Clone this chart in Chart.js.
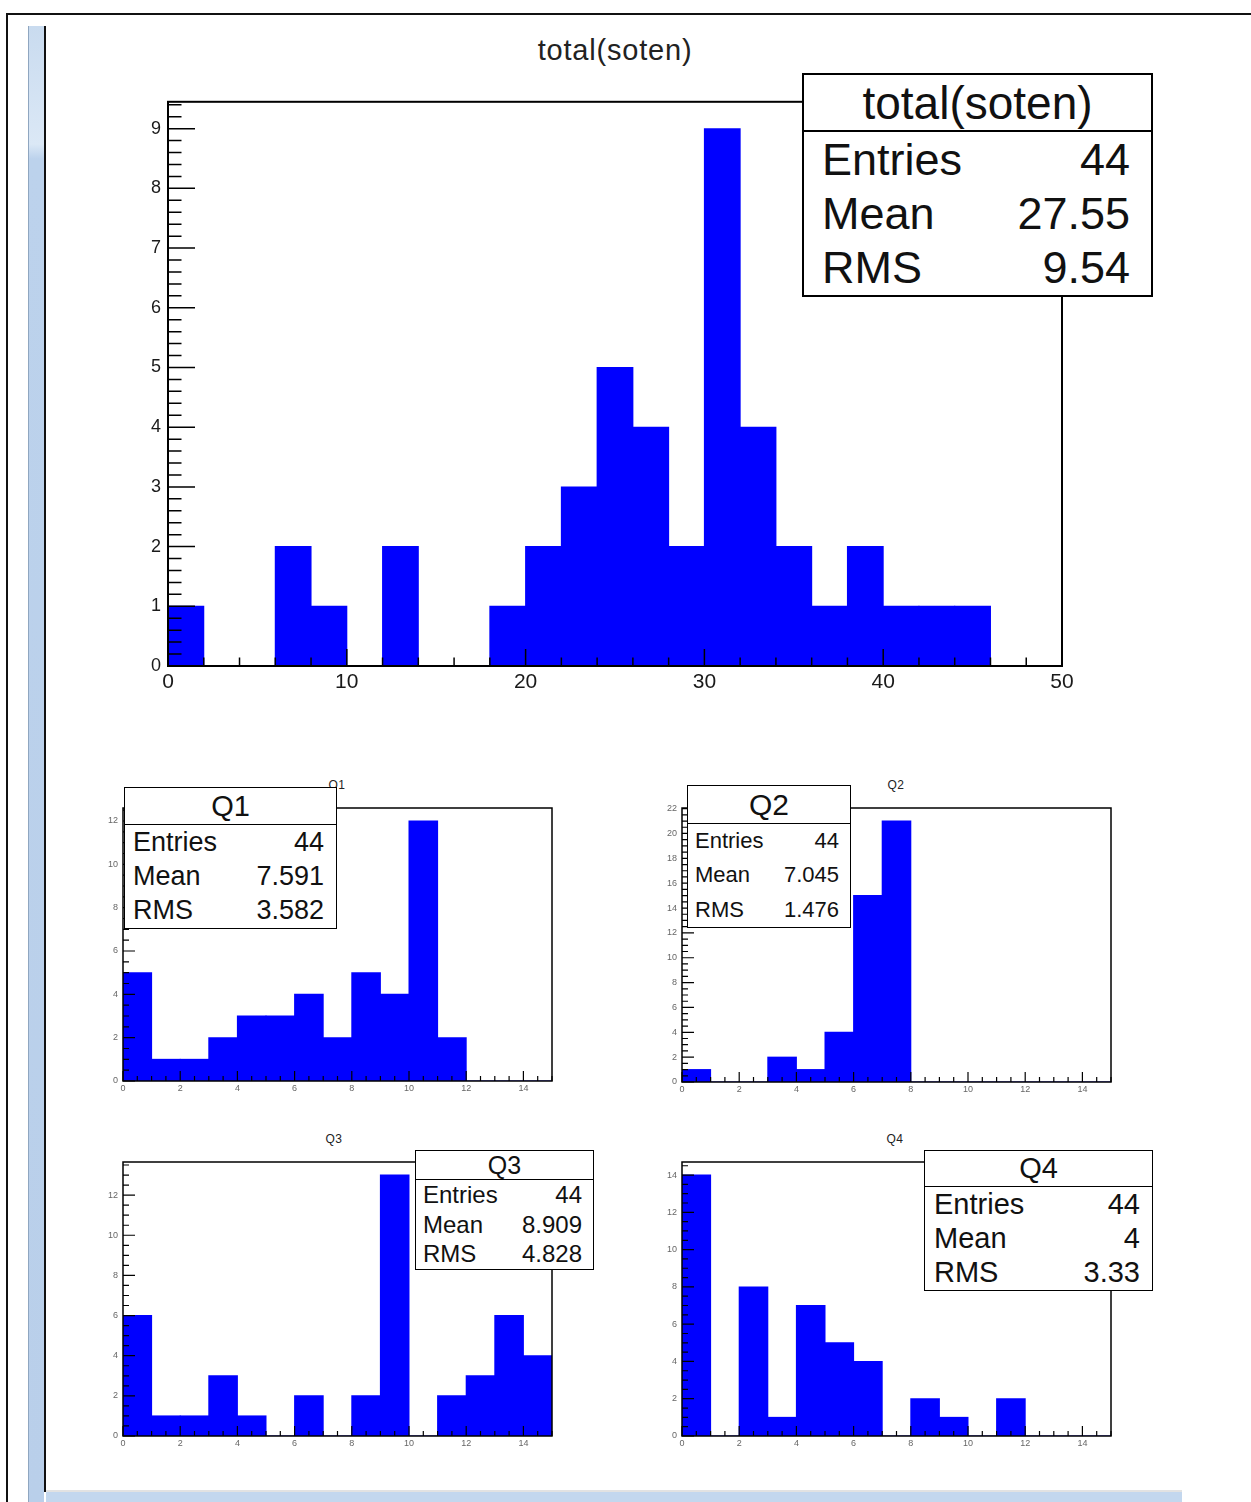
<!DOCTYPE html>
<html>
<head>
<meta charset="utf-8">
<script src="https://cdn.jsdelivr.net/npm/chart.js@4/dist/chart.umd.min.js"></script>
<style>
body { margin: 0; background: #fff; font-family: "Liberation Sans", Arial, sans-serif; }
#page { position: relative; width: 1251px; height: 1502px; overflow: hidden; background: #fff; }
.deco { position: absolute; }
canvas.hist { position: absolute; }
.title { position: absolute; transform: translate(-50%, -50%); white-space: nowrap; color: #222; line-height: 1; }
.stats { position: absolute; background: #fff; border: 1.5px solid #000; box-sizing: border-box;
         display: flex; flex-direction: column; color: #111; line-height: 1; }
.stats .head { border-bottom: 1.5px solid #000; display: flex; align-items: center; justify-content: center; }
.stats .row { flex: 1; display: flex; align-items: center; justify-content: space-between; }
</style>
</head>
<body>
<div id="page">
  <!-- window chrome round the canvas -->
  <div class="deco" style="left:7px;top:13px;width:1244px;height:2px;background:#111"></div>
  <div class="deco" style="left:6px;top:13px;width:2px;height:1489px;background:#111"></div>
  <div class="deco" style="left:28px;top:26px;width:16px;height:1476px;background:linear-gradient(#c9dbef,#dbe8f6 8%,#bcd2ec 9%,#b9cfea);border-left:1px solid #8fa6c0;box-sizing:border-box"></div>
  <div class="deco" style="left:44px;top:26px;width:2px;height:1466px;background:#111"></div>
  <div class="deco" style="left:46px;top:1490px;width:1136px;height:12px;background:#c3d7ee;border-top:2px solid #e2e2e2;box-sizing:border-box"></div>
</div>
<script>
// bin contents, width 2 from 0 to 50
const totalCounts = [1, 0, 0, 2, 1, 0, 2, 0, 0, 1, 2, 3, 5, 4, 2, 9, 4, 2, 1, 2, 1, 1, 1, 0, 0];
// quarter histograms, width 1 from 0 to 15
const q1Counts = [5, 1, 1, 2, 3, 3, 4, 2, 5, 4, 12, 2, 0, 0, 0];
const q2Counts = [1, 0, 0, 2, 1, 4, 15, 21, 0, 0, 0, 0, 0, 0, 0];
const q3Counts = [6, 1, 1, 3, 1, 0, 2, 0, 2, 13, 0, 2, 3, 6, 4];
const q4Counts = [14, 0, 8, 1, 7, 5, 4, 0, 2, 1, 0, 2, 0, 0, 0];

const statNames = ['Entries', 'Mean', 'RMS'];
const totalStats = ['44', '27.55', '9.54'];
const q1Stats = ['44', '7.591', '3.582'];
const q2Stats = ['44', '7.045', '1.476'];
const q3Stats = ['44', '8.909', '4.828'];
const q4Stats = ['44', '4', '3.33'];

const page = document.getElementById('page');

// ROOT style axes: ticks pointing into the frame, plus the frame itself
const rootAxes = {
    id: 'rootAxes',
    afterDatasetsDraw(chart, args, o) {
        const ctx = chart.ctx;
        const a = chart.chartArea;
        const x = chart.scales.x, y = chart.scales.y;
        ctx.save();
        ctx.strokeStyle = '#000';
        ctx.lineWidth = o.lw;
        ctx.beginPath();
        const nx = Math.round((x.max - x.min) / o.xMinor + 1e-6);
        for (let i = 0; i <= nx; i++) {
            const v = x.min + i * o.xMinor;
            const major = Math.abs(v / o.xMajor - Math.round(v / o.xMajor)) < 1e-6;
            const px = x.getPixelForValue(v);
            ctx.moveTo(px, a.bottom);
            ctx.lineTo(px, a.bottom - (major ? o.xLen : o.xLen / 2));
        }
        const ny = Math.floor((y.max - y.min) / o.yMinor + 1e-6);
        for (let i = 0; i <= ny; i++) {
            const v = y.min + i * o.yMinor;
            const major = Math.abs(v / o.yMajor - Math.round(v / o.yMajor)) < 1e-6;
            const py = y.getPixelForValue(v);
            ctx.moveTo(a.left, py);
            ctx.lineTo(a.left + (major ? o.yLen : o.yLen / 2), py);
        }
        ctx.stroke();
        ctx.lineWidth = o.frame;
        ctx.strokeRect(a.left, a.top, a.right - a.left, a.bottom - a.top);
        ctx.restore();
    }
};

function drawHist(c) {
    const padL = c.axisW, padT = 16, padR = 24, padB = c.axisH;
    const f = c.frame;
    const w = f.right - f.left + padL + padR;
    const h = f.bottom - f.top + padT + padB;
    const canvas = document.createElement('canvas');
    canvas.className = 'hist';
    canvas.width = w;
    canvas.height = h;
    canvas.style.left = (f.left - padL) + 'px';
    canvas.style.top = (f.top - padT) + 'px';
    canvas.style.width = w + 'px';
    canvas.style.height = h + 'px';
    page.appendChild(canvas);

    const points = c.counts.map((n, i) => ({ x: (i + 0.5) * c.binW, y: n }));
    new Chart(canvas, {
        type: 'bar',
        data: {
            datasets: [{
                data: points,
                backgroundColor: '#0000ff',
                borderWidth: 0,
                inflateAmount: 0.5,
                barPercentage: 1.0,
                categoryPercentage: 1.0
            }]
        },
        options: {
            responsive: false,
            animation: false,
            devicePixelRatio: 1,
            layout: { padding: { top: padT, right: padR, left: 0, bottom: 0 } },
            plugins: {
                legend: { display: false },
                tooltip: { enabled: false },
                rootAxes: c.ticks
            },
            scales: {
                x: {
                    type: 'linear', min: 0, max: c.xMax, offset: false,
                    grid: { display: false, drawTicks: false, offset: false },
                    border: { display: false },
                    ticks: {
                        stepSize: c.ticks.xMajor, includeBounds: false, autoSkip: false, maxRotation: 0,
                        padding: c.xPad, color: c.labelColor,
                        font: { family: 'Liberation Sans', size: c.xFont }
                    },
                    afterFit: s => { s.height = padB; }
                },
                y: {
                    type: 'linear', min: 0, max: c.yMax,
                    grid: { display: false, drawTicks: false },
                    border: { display: false },
                    ticks: {
                        stepSize: c.ticks.yMajor, includeBounds: false,
                        padding: c.yPad, color: c.labelColor,
                        font: { family: 'Liberation Sans', size: c.yFont }
                    },
                    afterFit: s => { s.width = padL; }
                }
            }
        },
        plugins: [rootAxes]
    });
}

function addTitle(text, x, y, size, spacing) {
    const d = document.createElement('div');
    d.className = 'title';
    d.textContent = text;
    d.style.left = x + 'px';
    d.style.top = y + 'px';
    d.style.fontSize = size + 'px';
    d.style.letterSpacing = spacing + 'px';
    page.appendChild(d);
}

function addStats(name, values, b) {
    const box = document.createElement('div');
    box.className = 'stats';
    Object.assign(box.style, {
        left: b.left + 'px', top: b.top + 'px', width: b.w + 'px', height: b.h + 'px',
        borderWidth: b.border + 'px'
    });
    const head = document.createElement('div');
    head.className = 'head';
    head.style.height = b.head + 'px';
    head.style.fontSize = b.titleFont + 'px';
    head.style.borderBottomWidth = b.border + 'px';
    head.textContent = name;
    box.appendChild(head);
    statNames.forEach((label, i) => {
        const row = document.createElement('div');
        row.className = 'row';
        row.style.fontSize = b.rowFont + 'px';
        row.style.padding = '0 ' + b.padR + 'px 0 ' + b.padL + 'px';
        const l = document.createElement('span');
        l.textContent = label;
        const r = document.createElement('span');
        r.textContent = values[i];
        row.appendChild(l);
        row.appendChild(r);
        box.appendChild(row);
    });
    page.appendChild(box);
}

const bigTicks = { xMajor: 10, xMinor: 2, yMajor: 1, yMinor: 0.2, xLen: 17, yLen: 27, lw: 1.5, frame: 2 };
const smallTicks = { xMajor: 2, xMinor: 0.5, yMajor: 2, yMinor: 0.5, xLen: 10, yLen: 12, lw: 1.2, frame: 1.5 };
const smallAxes = { axisW: 40, axisH: 24, xFont: 9, yFont: 9, xPad: 2, yPad: 5, labelColor: '#666', xMax: 15, binW: 1, ticks: smallTicks };

drawHist({
    counts: totalCounts, binW: 2, xMax: 50, yMax: 9.45,
    frame: { left: 168, top: 100, right: 1062, bottom: 666 },
    axisW: 60, axisH: 44, xFont: 21, yFont: 18, xPad: 4, yPad: 7, labelColor: '#1a1a1a',
    ticks: bigTicks
});
drawHist(Object.assign({}, smallAxes, { counts: q1Counts, yMax: 12.6, frame: { left: 123, top: 808, right: 552, bottom: 1081 } }));
drawHist(Object.assign({}, smallAxes, { counts: q2Counts, yMax: 22.05, frame: { left: 682, top: 808, right: 1111, bottom: 1082 } }));
drawHist(Object.assign({}, smallAxes, { counts: q3Counts, yMax: 13.65, frame: { left: 123, top: 1162, right: 552, bottom: 1436 } }));
drawHist(Object.assign({}, smallAxes, { counts: q4Counts, yMax: 14.7, frame: { left: 682, top: 1162, right: 1111, bottom: 1436 } }));

addTitle('total(soten)', 615, 50, 29, 0.8);
addTitle('Q1', 337, 785, 12, 0.5);
addTitle('Q2', 896, 785, 12, 0.5);
addTitle('Q3', 334, 1139, 12, 0.5);
addTitle('Q4', 895, 1139, 12, 0.5);

addStats('total(soten)', totalStats, { left: 802, top: 73, w: 351, h: 224, head: 55, titleFont: 46, rowFont: 45, padL: 18, padR: 21, border: 2 });
addStats('Q1', q1Stats, { left: 124, top: 787, w: 213, h: 142, head: 36, titleFont: 29, rowFont: 27, padL: 8, padR: 12, border: 1.5 });
addStats('Q2', q2Stats, { left: 687, top: 785, w: 164, h: 143, head: 37, titleFont: 30, rowFont: 22, padL: 7, padR: 11, border: 1.5 });
addStats('Q3', q3Stats, { left: 415, top: 1150, w: 179, h: 120, head: 28, titleFont: 25, rowFont: 24, padL: 7, padR: 11, border: 1.5 });
addStats('Q4', q4Stats, { left: 924, top: 1150, w: 229, h: 141, head: 35, titleFont: 29, rowFont: 29, padL: 9, padR: 12, border: 1.5 });
</script>
</body>
</html>
